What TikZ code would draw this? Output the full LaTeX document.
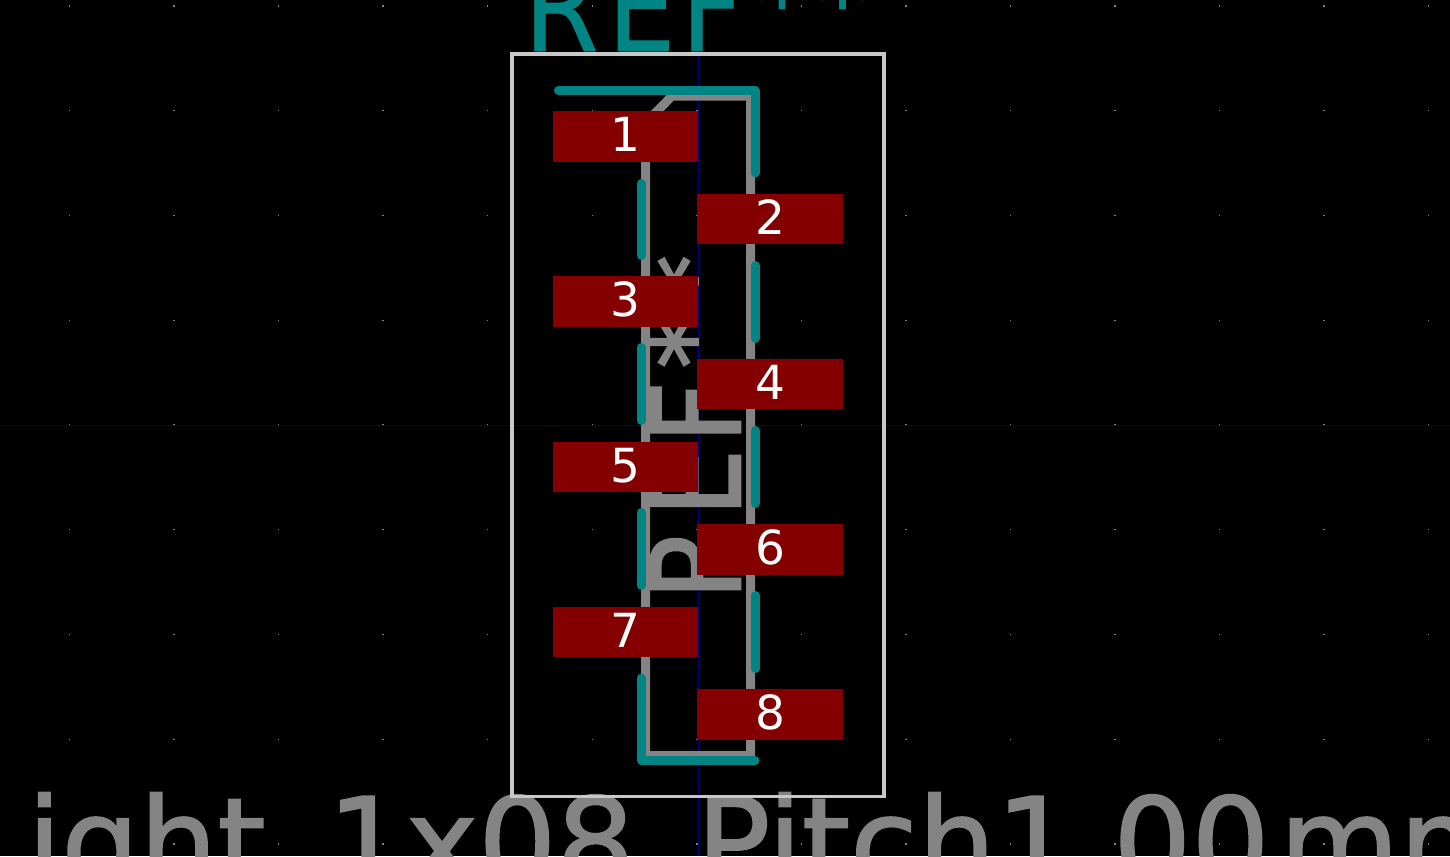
\documentclass[tikz,border=0pt]{standalone}
\usepackage{fontspec}
\setmainfont{DejaVu Sans}
\newfontfamily\fabfont[FakeBold=1.5]{DejaVu Sans}
\newfontfamily\fabreffont[FakeBold=2.2]{DejaVu Sans}
\newfontfamily\silkfont[FakeBold=0.8]{DejaVu Sans}
\definecolor{silk}{HTML}{008484}
\definecolor{fab}{HTML}{848484}
\definecolor{padred}{HTML}{840000}
\definecolor{crt}{HTML}{C8C8C8}
\definecolor{axis}{HTML}{000084}
\newcommand\bigtxt{\fontsize{123bp}{123bp}\selectfont}
\newcommand\nrw[1]{\scalebox{0.87}[1]{#1}}
\newcommand\reftxt{\nrw{R}\kern9bp\nrw{E}\kern6bp\nrw{F}\kern13bp\raisebox{12bp}{\fontsize{105bp}{105bp}\selectfont *\kern8bp *}}
\tikzset{
 x=1bp,y=-1bp,
 silkline/.style={draw=silk,line width=9bp,line cap=round,line join=round},
 fabline/.style={draw=fab,line width=9bp,line join=miter},
 crtline/.style={draw=crt,line width=3.2bp},
 axisline/.style={draw=axis,line width=1bp},
 griddot/.style={fill=fab},
 pcbpad/.style={fill=padred,draw=none,text=white,minimum width=145bp,minimum height=50.5bp,inner sep=0pt,text depth=4bp,font=\fontsize{47bp}{47bp}\selectfont},
 evenpad/.style={pcbpad,minimum width=146bp},
 fabtext/.style={text=fab,inner sep=0pt,font=\fabfont\bigtxt},
 fabreftext/.style={text=fab,inner sep=0pt,font=\fabreffont\bigtxt},
 silktext/.style={text=silk,inner sep=0pt,font=\silkfont\bigtxt},
}
\begin{document}
\begin{tikzpicture}
\useasboundingbox (0,0) rectangle (1450,856);
\clip (0,0) rectangle (1450,856);
\fill[black] (0,0) rectangle (1450,856);
% grid
\foreach \i in {0,...,13}{\foreach \j in {0,...,8}{
  \fill[griddot] ({69.5+104.55*\i-0.7},{6+104.75*\j-0.7}) rectangle +(1.4,1.4);
}}
% axes
\draw[axisline] (0,425.5) -- (1450,425.5);
\draw[axisline] (698,0) -- (698,856);
% fabrication outline
\draw[fabline] (645.5,123) -- (672,96) -- (750.5,96) -- (750.5,755.5) -- (645.5,755.5) -- cycle;
% fabrication texts
\node[fabreftext,rotate=90,anchor=base west] (fabref) at (740,600) {\reftxt};
\node[fabtext,anchor=base west] (value) at (27,886) {ight\_1x08\_Pitch1.00\kern10bp mm};
% silkscreen
\draw[silkline] (558.5,90.5) -- (755,90.5) -- (755,173);
\draw[silkline] (641,183.5) -- (641,255.5);
\draw[silkline] (641,347.5) -- (641,420.5);
\draw[silkline] (641,512.5) -- (641,585.5);
\draw[silkline] (641,678) -- (641,760.5) -- (755,760.5);
\draw[silkline] (755,265.5) -- (755,338.5);
\draw[silkline] (755,430.5) -- (755,503.5);
\draw[silkline] (755,595.5) -- (755,668.5);
\node[silktext,anchor=base west] (silkref) at (524,51) {\reftxt};
% pads
\node[pcbpad] (p1) at (625.5,136.4) {1};
\node[evenpad] (p2) at (770,219) {2};
\node[pcbpad] (p3) at (625.5,301.4) {3};
\node[evenpad] (p4) at (770,384) {4};
\node[pcbpad] (p5) at (625.5,466.9) {5};
\node[evenpad] (p6) at (770,549.5) {6};
\node[pcbpad] (p7) at (625.5,632) {7};
\node[evenpad] (p8) at (770,714.5) {8};
% courtyard
\draw[crtline] (512,54) rectangle (884,796.5);
\end{tikzpicture}
\end{document}
